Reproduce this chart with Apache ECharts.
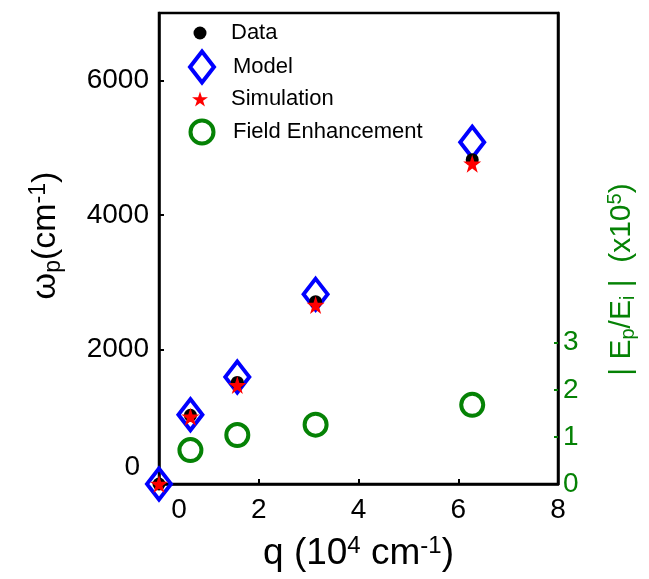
<!DOCTYPE html>
<html>
<head>
<meta charset="utf-8">
<script src="https://cdn.jsdelivr.net/npm/echarts@6/dist/echarts.min.js"></script>
<style>
html,body{margin:0;padding:0;background:#fff;}
#chart{width:649px;height:579px;}
</style>
</head>
<body>
<div id="chart"></div>
<script>
// ---- data ----
var qValues = [0, 0.63, 1.57, 3.14, 6.28];
var dataOmega = [0, 1020, 1510, 2710, 4820];
var modelOmega = [0, 1030, 1590, 2820, 5080];
var simOmega = [0, 1000, 1470, 2660, 4760];
var qField = [0.63, 1.57, 3.14, 6.28];
var fieldEnh = [0.72, 1.04, 1.26, 1.68];
var xTicks = [0, 2, 4, 6, 8];
var yLeftTicks = [0, 2000, 4000, 6000];
var yRightTicks = [0, 1, 2, 3];

function pairs(xs, ys) { return xs.map(function (x, i) { return [x, ys[i]]; }); }

var FONT = 'Liberation Sans, Arial, sans-serif';
var GREEN = '#058205';
var BLUE = '#0000ff';
var RED = '#ff0000';

var chart = echarts.init(document.getElementById('chart'), null, {renderer: 'canvas'});

function legendAt(top, name, w, h, extra) {
  var boxH = Math.max(h, 20);
  var o = {
    orient: 'vertical',
    left: 200 - w / 2 - 5,
    top: top - boxH / 2 - 5,
    itemWidth: w,
    itemHeight: h,
    data: [name],
    selectedMode: false,
    textStyle: {fontFamily: FONT, fontSize: 22, color: '#000', padding: [0, 0, 0, 31 - w / 2 - 5]}
  };
  for (var k in extra) o[k] = extra[k];
  return o;
}

var option = {
  backgroundColor: '#fff',
  animation: false,
  grid: {left: 159, right: 91, top: 13, bottom: 91, show: true, borderColor: '#000', borderWidth: 2.5, backgroundColor: 'transparent'},
  legend: [
    legendAt(32, 'Data', 13, 13, {itemStyle: {color: '#000', borderWidth: 0, opacity: 1}}),
    legendAt(65, 'Model', 24, 31, {symbolKeepAspect: false, itemStyle: {color: 'transparent', borderColor: BLUE, borderWidth: 4, opacity: 1}}),
    legendAt(98, 'Simulation', 16, 16, {itemStyle: {color: RED, borderWidth: 0, opacity: 1}}),
    legendAt(130, 'Field Enhancement', 23, 23, {itemStyle: {color: 'transparent', borderColor: GREEN, borderWidth: 4, opacity: 1}})
  ],
  xAxis: {
    type: 'value', min: 0, max: 8, interval: 2,
    axisLine: {show: true, lineStyle: {color: '#000', width: 2.5}},
    axisTick: {show: true, inside: true, length: 5, customValues: [2, 4, 6], lineStyle: {color: '#000', width: 2}},
    axisLabel: {
      customValues: xTicks, margin: 12, color: '#000', fontFamily: FONT, fontSize: 28,
      formatter: function (v) { return v === 0 ? '{z|0}' : String(v); },
      rich: {z: {fontFamily: FONT, fontSize: 28, color: '#000', padding: [0, 0, 0, 40]}}
    },
    splitLine: {show: false},
    name: '{t|q (10}{sup|4}{t| cm}{sup|-1}{t|)}',
    nameLocation: 'middle', nameGap: 50,
    nameTextStyle: {
      rich: {
        t: {fontFamily: FONT, fontSize: 37, color: '#000', lineHeight: 40},
        sup: {fontFamily: FONT, fontSize: 24, color: '#000', lineHeight: 24, padding: [0, 0, 16, 0]}
      }
    }
  },
  yAxis: [
    {
      type: 'value', min: 0, max: 7000, position: 'left',
      axisLine: {show: true, lineStyle: {color: '#000', width: 2.5}},
      axisTick: {show: true, inside: true, length: 5, customValues: [2000, 4000, 6000], lineStyle: {color: '#000', width: 2}},
      axisLabel: {
        customValues: yLeftTicks, margin: 10, color: '#000', fontFamily: FONT, fontSize: 28,
        formatter: function (v) { return v === 0 ? '{z|0}' : String(v); },
        rich: {z: {fontFamily: FONT, fontSize: 28, color: '#000', padding: [0, 9, 34, 0]}}
      },
      splitLine: {show: false},
      name: '{t|ω}{sub|p}{t|(cm}{sup|-1}{t|)}',
      nameLocation: 'middle', nameRotate: 90, nameGap: 94,
      nameTextStyle: {
        padding: [0, 0, 0, 26],
        rich: {
          t: {fontFamily: FONT, fontSize: 34, color: '#000', lineHeight: 38},
          sub: {fontFamily: FONT, fontSize: 23, color: '#000', lineHeight: 24, padding: [15, 0, 0, 0]},
          sup: {fontFamily: FONT, fontSize: 23, color: '#000', lineHeight: 24, padding: [0, 0, 15, 0]}
        }
      }
    },
    {
      type: 'value', min: 0, max: 10, position: 'right',
      axisLine: {show: true, lineStyle: {color: '#000', width: 2.5}},
      axisTick: {show: true, inside: true, length: 4, customValues: [1, 2, 3], lineStyle: {color: GREEN, width: 2}},
      axisLabel: {customValues: yRightTicks, margin: 5, color: GREEN, fontFamily: FONT, fontSize: 28},
      splitLine: {show: false},
      name: '{t|| E}{sub|p}{t|/E}{sub|i}{t| |  (x10}{sup|5}{t|)}',
      nameLocation: 'middle', nameRotate: 90, nameGap: 48,
      nameTextStyle: {
        padding: [0, 62, 0, 0],
        rich: {
          t: {fontFamily: FONT, fontSize: 30, color: GREEN, lineHeight: 32},
          sub: {fontFamily: FONT, fontSize: 20, color: GREEN, lineHeight: 22, padding: [13, 0, 0, 0]},
          sup: {fontFamily: FONT, fontSize: 20, color: GREEN, lineHeight: 22, padding: [0, 0, 13, 0]}
        }
      }
    }
  ],
  series: [
    {
      name: 'Data', type: 'scatter', yAxisIndex: 0, z: 3, clip: false,
      symbol: 'circle', symbolSize: 13,
      itemStyle: {color: '#000', opacity: 1},
      data: pairs(qValues, dataOmega)
    },
    {
      name: 'Model', type: 'scatter', yAxisIndex: 0, z: 2, clip: false,
      symbol: 'diamond', symbolSize: [24, 31],
      itemStyle: {color: 'transparent', borderColor: BLUE, borderWidth: 4, opacity: 1},
      data: pairs(qValues, modelOmega)
    },
    {
      name: 'Simulation', type: 'scatter', yAxisIndex: 0, z: 4, clip: false,
      symbol: 'path://M50,0 L61.8,35.5 L100,35.5 L69.1,57.4 L80.9,93.3 L50,71.4 L19.1,93.3 L30.9,57.4 L0,35.5 L38.2,35.5 Z',
      symbolSize: 18,
      itemStyle: {color: RED, opacity: 1},
      data: pairs(qValues, simOmega)
    },
    {
      name: 'Field Enhancement', type: 'scatter', yAxisIndex: 1, z: 2, clip: false,
      symbol: 'circle', symbolSize: 22,
      itemStyle: {color: 'transparent', borderColor: GREEN, borderWidth: 4, opacity: 1},
      data: pairs(qField, fieldEnh)
    }
  ]
};
chart.setOption(option);
</script>
</body>
</html>
